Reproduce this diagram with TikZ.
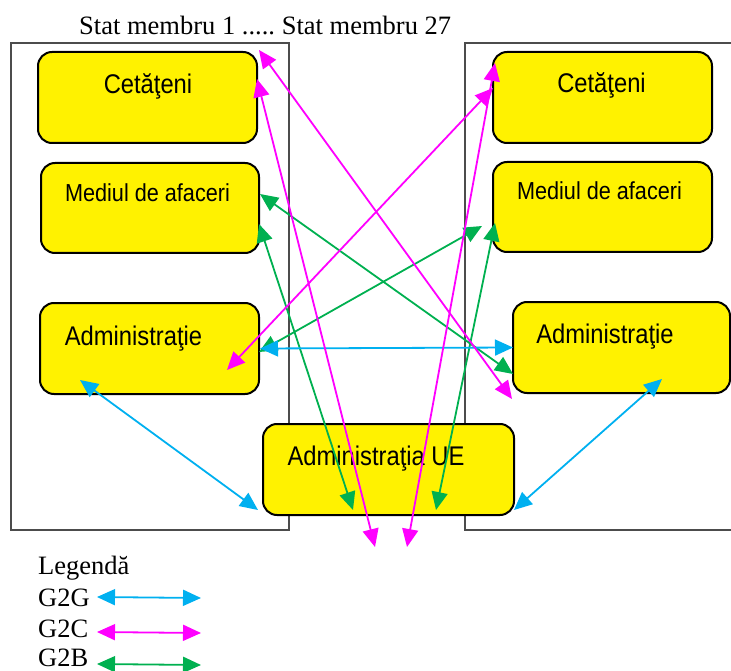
\documentclass[tikz,border=0pt]{standalone}
\usepackage{fontspec}
\setmainfont{Liberation Serif}
\newfontfamily\arialfont[FakeStretch=0.88]{Liberation Sans}
\usepackage{xcolor}
\usetikzlibrary{arrows.meta}

\definecolor{gcol}{HTML}{00B0F0}
\definecolor{ccol}{HTML}{FF00FF}
\definecolor{bcol}{HTML}{00B050}

\tikzset{
  box/.style={draw=black, fill=yellow, line width=2pt, rounded corners=14pt, inner sep=0pt},
  btxt/.style={font=\arialfont\fontsize{27}{31}\selectfont, anchor=base, inner sep=0pt},
  stxt/.style={font=\fontsize{26.5}{30}\selectfont, anchor=base west, inner sep=0pt},
  stat/.style={draw=black!70, line width=1.3pt},
  both/.style={line width=1.8pt, {Triangle[length=18pt,width=16pt]}-{Triangle[length=18pt,width=16pt]}},
  g2g/.style={both, color=gcol},
  g2c/.style={both, color=ccol},
  g2b/.style={both, color=bcol}
}

\begin{document}
\begin{tikzpicture}[x=1pt,y=-1pt]
\clip (0,0) rectangle (731,671);

\draw[stat] (11,43) rectangle (289,530);
\draw[stat] (465,43) rectangle (745,530);
\node[stxt] (titlu) at (79,35) {Stat membru 1 .....\kern-2pt{} Stat membru 27};

% stat membru 1
\node[box, minimum width=219pt, minimum height=91pt] (cet1) at (147.5,97.5) {};
\node[box, minimum width=218pt, minimum height=90pt] (med1) at (150,208) {};
\node[box, minimum width=219pt, minimum height=91pt] (adm1) at (149.5,348.5) {};
% stat membru 27
\node[box, minimum width=219pt, minimum height=91pt] (cet27) at (602.5,97.5) {};
\node[box, minimum width=219pt, minimum height=90pt] (med27) at (602.5,207) {};
\node[box, minimum width=217pt, minimum height=91pt] (adm27) at (621.5,347.5) {};
% UE
\node[box, minimum width=251pt, minimum height=91pt] (ue) at (388.5,469.5) {};

\node[btxt] (tcet1) at (148,94) {Cetăţeni};
\node[btxt, font=\arialfont\fontsize{24.6}{28}\selectfont] (tmed1) at (147.5,202) {Mediul de afaceri};
\node[btxt] (tadm1) at (133.5,345) {Administraţie};
\node[btxt] (tcet27) at (601.5,93) {Cetăţeni};
\node[btxt, font=\arialfont\fontsize{24.6}{28}\selectfont] (tmed27) at (599.5,200) {Mediul de afaceri};
\node[btxt] (tadm27) at (605,343) {Administraţie};
\node[btxt] (tue) at (376,465) {Administraţia UE};

% capete de sageti
\coordinate (c1a) at (259,50);   \coordinate (c1b) at (257,79);
\coordinate (c27a) at (495,63);  \coordinate (c27b) at (493,88);
\coordinate (m1a) at (260,194);  \coordinate (m1b) at (259,224);
\coordinate (m27a) at (482,226); \coordinate (m27b) at (495,223);
\coordinate (a1a) at (227,370);  \coordinate (a1b) at (259,352);
\coordinate (a1c) at (80,380);
\coordinate (a27a) at (513,374); \coordinate (a27b) at (512,399);
\coordinate (a27c) at (662,379);
\coordinate (ua) at (258,510);   \coordinate (ub) at (353,510);
\coordinate (uc) at (436,510);   \coordinate (ud) at (514,510);
\coordinate (jos1) at (375,547); \coordinate (jos2) at (407,547);

\draw[g2b] (m1a) -- (a27a);
\draw[g2b] (m1b) -- (ub);
\draw[g2b] (m27b) -- (uc);
\draw[g2b] (m27a) -- (a1b);
\draw[g2g] (adm1.east) -- (a27a |- adm27.west);
\draw[g2g] (a1c) -- (ua);
\draw[g2g] (a27c) -- (ud);
\draw[g2c] (c1a) -- (a27b);
\draw[g2c] (c1b) -- (jos1);
\draw[g2c] (c27a) -- (jos2);
\draw[g2c] (c27b) -- (a1a);

% legenda
\node[stxt] (leg) at (38,574) {Legendă};
\node[stxt] (lg) at (38,606) {G2G};
\node[stxt] (lc) at (38,637) {G2C};
\node[stxt] (lb) at (38,666) {G2B};
\coordinate (lg1) at (97,597); \coordinate (lg2) at (201,598);
\coordinate (lc1) at (97,632); \coordinate (lc2) at (201,633);
\coordinate (lb1) at (97,664); \coordinate (lb2) at (201,665);
\draw[g2g] (lg1) -- (lg2);
\draw[g2c] (lc1) -- (lc2);
\draw[g2b] (lb1) -- (lb2);
\end{tikzpicture}
\end{document}
